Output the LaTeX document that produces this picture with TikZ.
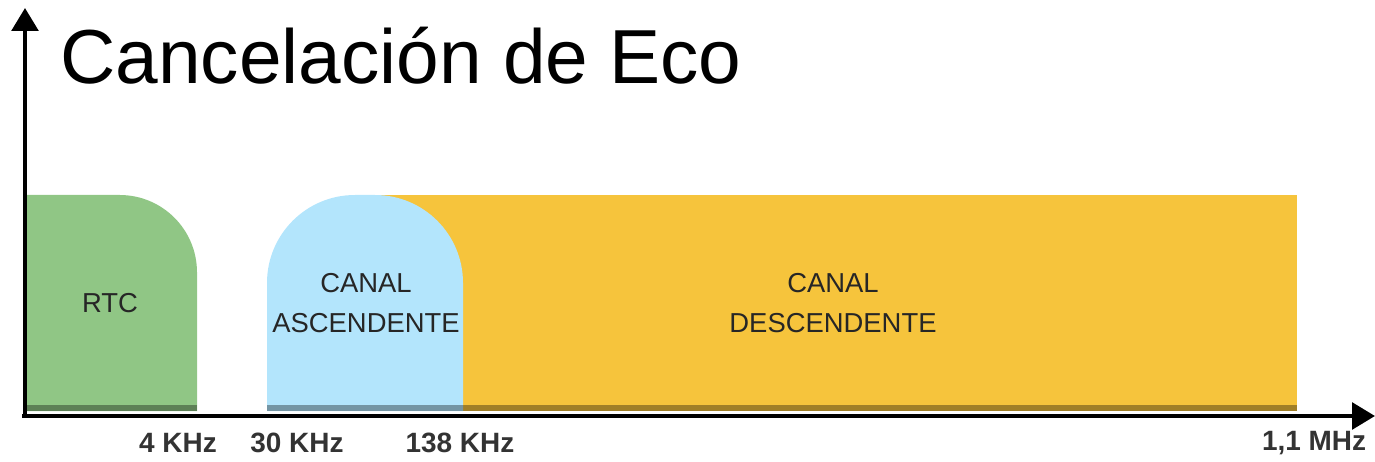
\documentclass[tikz,border=0pt]{standalone}
\usepackage{fontspec}
\setmainfont{Liberation Sans}
\usetikzlibrary{arrows.meta}
\definecolor{rtcgreen}{HTML}{90C685}
\definecolor{upblue}{HTML}{B3E5FC}
\definecolor{downyellow}{HTML}{F6C43C}
\tikzset{
  axisline/.style={line width=2.4pt,-{Triangle[length=13pt,width=15pt]}},
  bandlabel/.style={font=\fontsize{15.6pt}{22.7pt}\selectfont,align=center,text=black!85},
  ticklabel/.style={font=\bfseries\fontsize{15.9pt}{18pt}\selectfont,text=black!80,inner sep=0pt},
  baseband/.style={fill=black,opacity=0.35}
}
\begin{document}
\begin{tikzpicture}[x=0.02cm,y=-0.02cm]
\useasboundingbox (0,0) rectangle (1375,462);
% bands
\fill[downyellow] (372,195) rectangle (1297,411);
\fill[rtcgreen] (27,411) -- (27,195) [rounded corners=44pt] -- (197,195) [sharp corners] -- (197,411) -- cycle;
\fill[upblue] (267,411) [rounded corners=50pt] -- (267,195) -- (463,195) [sharp corners] -- (463,411) -- cycle;
% darker base strips
\fill[baseband] (27,405) rectangle (197,411);
\fill[baseband] (267,405) rectangle (1297,411);
% axes
\coordinate (origin) at (25,416);
\coordinate (ytip) at (25,8);
\coordinate (xstart) at (22,416);
\coordinate (xtip) at (1375,416);
\draw[axisline] (xstart) -- (xtip);
\draw[axisline] (origin) -- (ytip);
% title
\node[font=\fontsize{43.6pt}{50pt}\selectfont,anchor=base west,inner sep=0pt] (title) at (60,84) {Cancelación de Eco};
% band labels
\node[bandlabel] (rtc) at (110,303) {RTC};
\node[bandlabel] (up) at (366,303) {CANAL\\ASCENDENTE};
\node[bandlabel] (down) at (833,303) {CANAL\\DESCENDENTE};
% tick labels
\node[ticklabel] (f4) at (178,443) {4 KHz};
\node[ticklabel] (f30) at (297,443) {30 KHz};
\node[ticklabel] (f138) at (460,443) {138 KHz};
\node[ticklabel] (f11) at (1314,443) {1,1 MHz};
\end{tikzpicture}
\end{document}
